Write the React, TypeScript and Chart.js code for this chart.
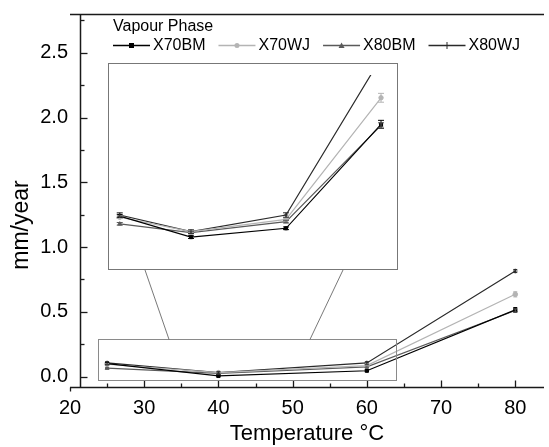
import React, { useEffect, useRef } from "react";
import { Chart, registerables } from "chart.js";
Chart.register(...registerables);

// ---------- data ----------
const temperatures = [25, 40, 60, 80];
const seriesNames = ["X70BM", "X70WJ", "X80BM", "X80WJ"];
const x70bm = [0.1, 0.005, 0.045, 0.515];
const x70wj = [0.095, 0.03, 0.085, 0.635];
const x80bm = [0.065, 0.025, 0.075, 0.51];
const x80wj = [0.105, 0.03, 0.105, 0.815];
const x70bmErr = [0.008, 0.006, 0.006, 0.018];
const x70wjErr = [0.006, 0.005, 0.006, 0.02];
const x80bmErr = [0.006, 0.005, 0.006, 0.012];
const x80wjErr = [0.01, 0.008, 0.01, 0.012];
const xTickValues = [20, 30, 40, 50, 60, 70, 80];
const yTickValues = [0, 0.5, 1.0, 1.5, 2.0, 2.5];
const legendTitle = "Vapour Phase";
const xTitle = "Temperature °C";
const yTitle = "mm/year";

// zoomed region (data units) shown in the inset
const zoomXRange = [23.8, 63.9];
const zoomYRange = [-0.027, 0.287];

const FONT = "'Liberation Sans', Arial, sans-serif";
const colors = ["#000000", "#b4b4b4", "#5a5a5a", "#2a2a2a"];
const pointStyles = ["rect", "circle", "triangle", "cross"];

const allValues = [x70bm, x70wj, x80bm, x80wj];
const allErrors = [x70bmErr, x70wjErr, x80bmErr, x80wjErr];

function makeDatasets(radius: number) {
  return allValues.map((vals, k) => ({
    label: seriesNames[k],
    data: temperatures.map((t, i) => ({ x: t, y: vals[i] })),
    errors: allErrors[k],
    borderColor: colors[k],
    backgroundColor: colors[k],
    pointBackgroundColor: colors[k],
    pointBorderColor: colors[k],
    pointStyle: pointStyles[k],
    pointRadius: radius,
    pointBorderWidth: 1,
    borderWidth: 1.2,
    tension: 0,
  }));
}

const errorBarPlugin = (cap: number) => ({
  id: "errorBars",
  afterDatasetsDraw(chart: any) {
    const { ctx, chartArea: a } = chart;
    const y = chart.scales.y;
    ctx.save();
    ctx.beginPath();
    ctx.rect(a.left, a.top, a.right - a.left, a.bottom - a.top);
    ctx.clip();
    chart.data.datasets.forEach((ds: any, di: number) => {
      const meta = chart.getDatasetMeta(di);
      ctx.strokeStyle = ds.borderColor;
      ctx.lineWidth = 1;
      meta.data.forEach((pt: any, i: number) => {
        const v = ds.data[i].y;
        const e = ds.errors[i];
        const top = y.getPixelForValue(v + e);
        const bot = y.getPixelForValue(v - e);
        const px = pt.x;
        ctx.beginPath();
        ctx.moveTo(px, top);
        ctx.lineTo(px, bot);
        ctx.moveTo(px - cap, top);
        ctx.lineTo(px + cap, top);
        ctx.moveTo(px - cap, bot);
        ctx.lineTo(px + cap, bot);
        ctx.stroke();
      });
    });
    ctx.restore();
  },
});

function drawMarker(ctx: CanvasRenderingContext2D, style: string, cx: number, cy: number, r: number, color: string) {
  ctx.fillStyle = color;
  ctx.strokeStyle = color;
  ctx.lineWidth = 1;
  ctx.beginPath();
  if (style === "rect") {
    ctx.fillRect(cx - r, cy - r, 2 * r, 2 * r);
  } else if (style === "circle") {
    ctx.arc(cx, cy, r, 0, Math.PI * 2);
    ctx.fill();
  } else if (style === "triangle") {
    ctx.moveTo(cx, cy - r - 0.5);
    ctx.lineTo(cx + r + 0.5, cy + r);
    ctx.lineTo(cx - r - 0.5, cy + r);
    ctx.closePath();
    ctx.fill();
  } else {
    ctx.moveTo(cx, cy - r - 1);
    ctx.lineTo(cx, cy + r + 1);
    ctx.stroke();
  }
}

const mainDecor = {
  id: "mainDecor",
  afterDraw(chart: any) {
    const { ctx, chartArea: a } = chart;
    const x = chart.scales.x;
    const y = chart.scales.y;
    ctx.save();
    const axisColor = "#1a1a1a";
    ctx.strokeStyle = axisColor;
    ctx.lineWidth = 1.5;
    const yAxisX = Math.round(a.left + 10) + 0.5;
    const line = (x1: number, y1: number, x2: number, y2: number) => {
      ctx.beginPath();
      ctx.moveTo(x1, y1);
      ctx.lineTo(x2, y2);
      ctx.stroke();
    };
    const bottom = Math.round(a.bottom) + 0.5;
    const top = Math.round(a.top) + 0.5;
    line(a.left, bottom, a.right, bottom);
    line(a.left, top, a.right, top);
    line(yAxisX, top, yAxisX, bottom);
    ctx.lineWidth = 1.3;
    // x ticks
    xTickValues.forEach((v) => {
      const px = Math.round(x.getPixelForValue(v)) + 0.5;
      if (px < yAxisX) line(px, bottom, px, bottom + 4);
      else line(px, bottom, px, bottom - 7);
    });
    for (let v = 25; v < x.max; v += 10) {
      const px = Math.round(x.getPixelForValue(v)) + 0.5;
      line(px, bottom, px, bottom - 4);
    }
    // y ticks
    yTickValues.forEach((v) => {
      const py = Math.round(y.getPixelForValue(v)) + 0.5;
      line(yAxisX, py, yAxisX + 7, py);
    });
    for (let v = 0.25; v < y.max; v += 0.5) {
      const py = Math.round(y.getPixelForValue(v)) + 0.5;
      line(yAxisX, py, yAxisX + 4, py);
    }

    // zoom box
    const bx1 = x.getPixelForValue(zoomXRange[0]);
    const bx2 = x.getPixelForValue(zoomXRange[1]);
    const by1 = y.getPixelForValue(zoomYRange[1]);
    const by2 = y.getPixelForValue(zoomYRange[0]);
    ctx.strokeStyle = "#8a8a8a";
    ctx.lineWidth = 1;
    ctx.strokeRect(Math.round(bx1) + 0.5, Math.round(by1) + 0.5, Math.round(bx2 - bx1), Math.round(by2 - by1));
    // connectors
    ctx.strokeStyle = "#555";
    ctx.lineWidth = 0.8;
    line(169, by1, 145, 270);
    line(310, by1, 343, 270);

    // y title
    ctx.fillStyle = "#000";
    ctx.font = `23px ${FONT}`;
    ctx.textAlign = "center";
    ctx.textBaseline = "middle";
    ctx.save();
    ctx.translate(22, 225);
    ctx.rotate(-Math.PI / 2);
    ctx.fillText(yTitle, 0, 0);
    ctx.restore();

    // legend
    ctx.font = `16px ${FONT}`;
    ctx.textAlign = "left";
    ctx.fillStyle = "#000";
    ctx.fillText(legendTitle, 113, 27);
    let lx = 113;
    const ly = 45.5;
    seriesNames.forEach((name, k) => {
      ctx.strokeStyle = colors[k];
      ctx.lineWidth = 1.3;
      line(lx, ly, lx + 37, ly);
      drawMarker(ctx, pointStyles[k], lx + 18.5, ly, 2.5, colors[k]);
      ctx.fillStyle = "#000";
      ctx.fillText(name, lx + 40, ly + 0.5);
      lx += 40 + ctx.measureText(name).width + 13;
    });
    ctx.restore();
  },
};

const insetFrame = {
  id: "insetFrame",
  afterDraw(chart: any) {
    const { ctx, width, height } = chart;
    ctx.save();
    ctx.strokeStyle = "#777";
    ctx.lineWidth = 1;
    ctx.strokeRect(0.5, 0.5, width - 1, height - 1);
    ctx.restore();
  },
};

export default function App() {
  const mainRef = useRef<HTMLCanvasElement>(null);
  const insetRef = useRef<HTMLCanvasElement>(null);

  useEffect(() => {
    document.body.style.margin = "0";
    const main = new Chart(mainRef.current as HTMLCanvasElement, {
      type: "line",
      data: { datasets: makeDatasets(2.3) as any },
      options: {
        animation: false,
        responsive: false,
        devicePixelRatio: 1,
        layout: { padding: { top: 14, right: 0, bottom: 0, left: 0 } },
        plugins: { legend: { display: false }, tooltip: { enabled: false } },
        scales: {
          x: {
            type: "linear",
            min: 20,
            max: 83.87,
            grid: { display: false, drawTicks: false },
            border: { display: false },
            afterBuildTicks: (s: any) => {
              s.ticks = xTickValues.map((v) => ({ value: v }));
            },
            afterFit: (s: any) => {
              s.height = 59.7;
            },
            ticks: {
              autoSkip: false,
              maxRotation: 0,
              padding: 9,
              color: "#000",
              font: { family: FONT, size: 20 },
              callback: (v: any) => String(v),
            },
            title: {
              display: true,
              text: xTitle,
              color: "#000",
              font: { family: FONT, size: 22 },
              padding: { top: 0, bottom: 0 },
            },
          },
          y: {
            type: "linear",
            min: -0.083,
            max: 2.8,
            grid: { display: false, drawTicks: false },
            border: { display: false },
            afterBuildTicks: (s: any) => {
              s.ticks = yTickValues.map((v) => ({ value: v }));
            },
            afterFit: (s: any) => {
              s.width = 70;
            },
            ticks: {
              padding: 2,
              color: "#000",
              font: { family: FONT, size: 20 },
              callback: (v: any) => Number(v).toFixed(1),
            },
          },
        },
      },
      plugins: [errorBarPlugin(2), mainDecor],
    });

    const inset = new Chart(insetRef.current as HTMLCanvasElement, {
      type: "line",
      data: { datasets: makeDatasets(2.2) as any },
      options: {
        animation: false,
        responsive: false,
        devicePixelRatio: 1,
        layout: { padding: { top: 12, right: 0, bottom: 0, left: 0 } },
        plugins: { legend: { display: false }, tooltip: { enabled: false } },
        scales: {
          x: { type: "linear", display: false, min: 23.58, max: 82.52 },
          y: { type: "linear", display: false, min: -0.121, max: 0.738 },
        },
      },
      plugins: [errorBarPlugin(3), insetFrame],
    });

    return () => {
      main.destroy();
      inset.destroy();
    };
  }, []);

  return (
    <div style={{ position: "relative", width: 549, height: 447, background: "#fff" }}>
      <canvas ref={mainRef} width={549} height={447} style={{ position: "absolute", left: 0, top: 0 }} />
      <canvas ref={insetRef} width={290} height={207} style={{ position: "absolute", left: 108, top: 63 }} />
    </div>
  );
}
